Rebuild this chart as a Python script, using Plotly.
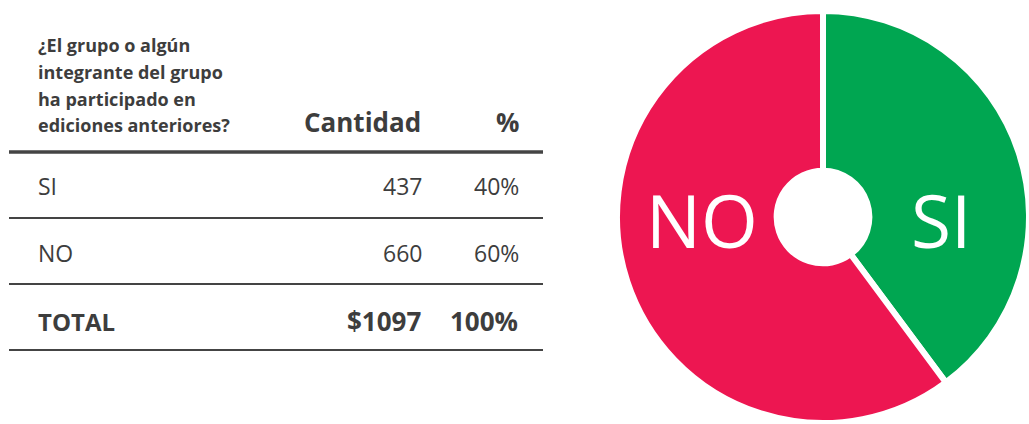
import plotly.graph_objects as go

# ---- data ----
categories = ["SI", "NO"]
counts = [437, 660]
percents = ["40%", "60%"]
total_label = "TOTAL"
total_count = "$1097"
total_pct = "100%"
header_lines = ["¿El grupo o algún", "integrante del grupo", "ha participado en", "ediciones anteriores?"]
col_headers = ["Cantidad", "%"]
slice_colors = ["#00A651", "#ED1651"]

W, H = 1029, 424
TXT = "#3d3d3d"
FONT = "Open Sans"


def px(x):
    return x / W


def py(y):
    return 1 - y / H


fig = go.Figure()
fig.add_trace(go.Pie(
    labels=categories,
    values=counts,
    sort=False,
    direction="clockwise",
    rotation=0,
    hole=0.225,
    marker=dict(colors=slice_colors, line=dict(color="white", width=6)),
    textinfo="none",
    hoverinfo="label+value+percent",
    showlegend=False,
    domain=dict(x=[617 / W, 1.0], y=[0.0, 1 - 10 / H]),
))

annotations = []
# header question
for i, (line, yc) in enumerate(zip(header_lines, [45, 72, 99, 125])):
    annotations.append(dict(x=px(36), y=py(yc), xref="paper", yref="paper", text=f"<b>{line}</b>",
                            showarrow=False, xanchor="left", yanchor="middle",
                            font=dict(family=FONT, size=18, color=TXT)))
annotations.append(dict(x=px(423), y=py(122), xref="paper", yref="paper", text=f"<b>{col_headers[0]}</b>",
                        showarrow=False, xanchor="right", yanchor="middle",
                        font=dict(family=FONT, size=26, color=TXT)))
annotations.append(dict(x=px(521), y=py(122), xref="paper", yref="paper", text=f"<b>{col_headers[1]}</b>",
                        showarrow=False, xanchor="right", yanchor="middle",
                        font=dict(family=FONT, size=26, color=TXT)))

row_y = [186, 253]
for cat, cnt, pct, yc in zip(categories, counts, percents, row_y):
    annotations.append(dict(x=px(36), y=py(yc), xref="paper", yref="paper", text=cat, showarrow=False,
                            xanchor="left", yanchor="middle", font=dict(family=FONT, size=23, color=TXT)))
    annotations.append(dict(x=px(424), y=py(yc), xref="paper", yref="paper", text=str(cnt), showarrow=False,
                            xanchor="right", yanchor="middle", font=dict(family=FONT, size=23, color=TXT)))
    annotations.append(dict(x=px(521), y=py(yc), xref="paper", yref="paper", text=pct, showarrow=False,
                            xanchor="right", yanchor="middle", font=dict(family=FONT, size=23, color=TXT)))

annotations.append(dict(x=px(36), y=py(321), xref="paper", yref="paper", text=f"<b>{total_label}</b>",
                        showarrow=False, xanchor="left", yanchor="middle",
                        font=dict(family=FONT, size=24, color=TXT)))
annotations.append(dict(x=px(423), y=py(321), xref="paper", yref="paper", text=f"<b>{total_count}</b>",
                        showarrow=False, xanchor="right", yanchor="middle",
                        font=dict(family=FONT, size=26, color=TXT)))
annotations.append(dict(x=px(520), y=py(321), xref="paper", yref="paper", text=f"<b>{total_pct}</b>",
                        showarrow=False, xanchor="right", yanchor="middle",
                        font=dict(family=FONT, size=26, color=TXT)))

# pie labels
annotations.append(dict(x=px(702), y=py(219), xref="paper", yref="paper", text=categories[1],
                        showarrow=False, xanchor="center", yanchor="middle",
                        font=dict(family=FONT, size=73, color="white")))
annotations.append(dict(x=px(941), y=py(219), xref="paper", yref="paper", text=categories[0],
                        showarrow=False, xanchor="center", yanchor="middle",
                        font=dict(family=FONT, size=73, color="white")))

shapes = [
    dict(type="line", xref="paper", yref="paper", x0=px(9), x1=px(543), y0=py(152), y1=py(152),
         line=dict(color="#444444", width=3.5)),
]
for yl in [218, 284, 350]:
    shapes.append(dict(type="line", xref="paper", yref="paper", x0=px(9), x1=px(543), y0=py(yl), y1=py(yl),
                       line=dict(color="#444444", width=1.8)))

fig.update_layout(
    width=W, height=H,
    margin=dict(l=0, r=0, t=0, b=0),
    paper_bgcolor="white", plot_bgcolor="white",
    annotations=annotations, shapes=shapes,
    font=dict(family=FONT),
)

fig.write_html("out.html", config={"displayModeBar": False},
               post_script="document.body.style.margin='0px';document.body.style.overflow='hidden';")
